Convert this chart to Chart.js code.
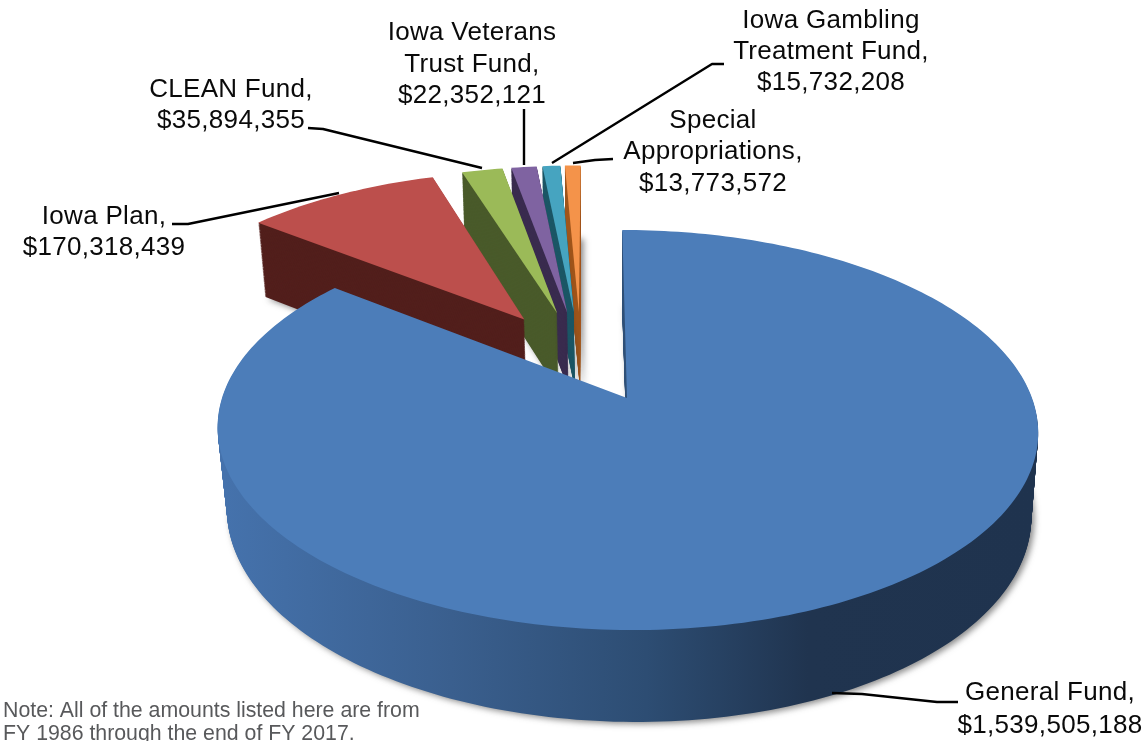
<!DOCTYPE html>
<html>
<head>
<meta charset="utf-8">
<title>Funds</title>
<script src="https://cdn.jsdelivr.net/npm/chart.js@4"></script>
<style>
  html, body { margin: 0; padding: 0; background: #fff; }
  canvas { display: block; }
</style>
</head>
<body>
<canvas id="pie" width="1143" height="741"></canvas>
<script>
// ── Data ─────────────────────────────────────────────────
const categories = ["General Fund", "Iowa Plan", "CLEAN Fund", "Iowa Veterans Trust Fund", "Iowa Gambling Treatment Fund", "Special Appropriations"];
const amounts = [1539505188, 170318439, 35894355, 22352121, 15732208, 13773572];
const note = ["Note: All of the amounts listed here are from", "FY 1986 through the end of FY 2017."];

// ── Styles ───────────────────────────────────────────────
const topColors = ["#4c7db9", "#bc4f4c", "#9bba58", "#7f63a1", "#46a4c0", "#f4934a"];
const wallColors = [null, "#521f1c", "#495a2a", "#3a2c4f", "#1d5766", "#a2581f"];
const explodeX = 0.264; // kao Excel "pie explosion", del od radiusot
const explodeY = 0.25;

// Perspektiva: gornata i dolnata ramnina na pitata
const TOP = { x0: 627, y0: 398, a: 405, b: 5.5, d: 194.9, g: -0.16 };
const BOTTOM = { x0: 628, y0: 479.7, a: 397, b: 7, d: 203.5, g: -0.16 };

const labels = [
  { x: 1050, lines: [["General Fund,", 700], ["$1,539,505,188", 733]], leader: [[958, 702], [937, 702], [862, 694], [832, 693]] },
  { x: 104, lines: [["Iowa Plan,", 224], ["$170,318,439", 255]], leader: [[172, 224], [188, 224], [339, 193]] },
  { x: 231, lines: [["CLEAN Fund,", 97], ["$35,894,355", 128]], leader: [[308, 128], [323, 129], [482, 168]] },
  { x: 472, lines: [["Iowa Veterans", 40], ["Trust Fund,", 72], ["$22,352,121", 103]], leader: [[524, 109], [524, 165]] },
  { x: 831, lines: [["Iowa Gambling", 28], ["Treatment Fund,", 59], ["$15,732,208", 90]], leader: [[724, 64], [712, 64], [552, 163]] },
  { x: 713, lines: [["Special", 128], ["Appropriations,", 159], ["$13,773,572", 191]], leader: [[613, 159], [595, 160], [573, 163]] },
];

// ── Helpers ──────────────────────────────────────────────
const lerp = (a, b, t) => a + (b - a) * t;
const lerpPlane = (t) => {
  const p = {};
  for (const k in TOP) p[k] = lerp(TOP[k], BOTTOM[k], t);
  return p;
};

function project(p, u, v) {
  const w = 1 + p.g * v;
  return [p.x0 + (p.a * u + p.b * v) / w, p.y0 + (p.d * v) / w];
}

// Go prenasochuva crtanjeto na ArcElement niz perspektivata
function planeCtx(ctx, el, plane, dx, dy) {
  const toScreen = (x, y) => project(plane, (x - el.x) / el.outerRadius + dx, (y - el.y) / el.outerRadius + dy);
  const lineTo = (x, y) => ctx.lineTo(...toScreen(x, y));
  const over = {
    lineTo,
    moveTo: lineTo,
    translate() {},
    arc(x, y, r, a0, a1, ccw) {
      const n = Math.max(2, Math.ceil(Math.abs(a1 - a0) / 0.02));
      for (let i = 0; i <= n; i++) {
        const a = lerp(a0, a1, i / n);
        lineTo(x + r * Math.cos(a), y + r * Math.sin(a));
      }
    },
  };
  return new Proxy(ctx, {
    get(t, k) {
      if (k in over) return over[k];
      const v = t[k];
      return typeof v === "function" ? v.bind(t) : v;
    },
    set(t, k, v) {
      t[k] = v;
      return true;
    },
  });
}

function drawFace(ctx, el, plane, dx, dy, color) {
  const ghost = Object.create(el);
  ghost.options = { backgroundColor: color, borderColor: color, borderWidth: 0, borderRadius: 0, offset: 0, spacing: 0, circular: true, borderDash: [], borderDashOffset: 0 };
  ghost.draw(planeCtx(ctx, el, plane, dx, dy));
}

const midDir = (el) => {
  const m = (el.startAngle + el.endAngle) / 2;
  return [Math.cos(m), Math.sin(m)];
};

// ── Pie so debelina ──────────────────────────────────────
const pie3d = {
  id: "pie3d",
  beforeDatasetsDraw(chart) {
    const ctx = chart.ctx;
    const arcs = chart.getDatasetMeta(0).data;
    const origin = midDir(arcs[0]);

    const blueWall = ctx.createLinearGradient(225, 0, 1035, 0);
    blueWall.addColorStop(0, "#4572ac");
    blueWall.addColorStop(0.28, "#3a5f8e");
    blueWall.addColorStop(0.52, "#2d4d73");
    blueWall.addColorStop(0.72, "#20344f");
    blueWall.addColorStop(1, "#1f334e");

    // Od pozadi kon napred: posledniot isecok, ..., prviot
    for (let i = arcs.length - 1; i >= 0; i--) {
      const el = arcs[i];
      const dir = midDir(el);
      const dx = explodeX * (dir[0] - origin[0]);
      const dy = explodeY * (dir[1] - origin[1]);
      const wall = i === 0 ? blueWall : wallColors[i];
      const steps = 90;
      for (let s = steps; s > 0; s--) {
        if (s === steps) {
          ctx.shadowColor = "rgba(40,40,40,0.55)";
          ctx.shadowBlur = 6;
          ctx.shadowOffsetX = 3;
          ctx.shadowOffsetY = 2;
        }
        drawFace(ctx, el, lerpPlane(s / steps), dx, dy, wall);
        ctx.shadowColor = "transparent";
        ctx.shadowBlur = ctx.shadowOffsetX = ctx.shadowOffsetY = 0;
      }
      drawFace(ctx, el, TOP, dx, dy, topColors[i]);
    }
    return false;
  },
  afterDraw(chart) {
    const ctx = chart.ctx;
    ctx.save();
    ctx.strokeStyle = "#000";
    ctx.lineWidth = 2.4;
    ctx.lineJoin = "round";
    labels.forEach((l) => {
      ctx.beginPath();
      l.leader.forEach((p, i) => (i ? ctx.lineTo(p[0], p[1]) : ctx.moveTo(p[0], p[1])));
      ctx.stroke();
    });

    ctx.fillStyle = "#0a0a0a";
    ctx.font = '26px "Liberation Sans"';
    ctx.letterSpacing = "0.3px";
    ctx.textAlign = "center";
    labels.forEach((l) => l.lines.forEach(([txt, y]) => ctx.fillText(txt, l.x, y)));

    ctx.fillStyle = "#58595b";
    ctx.font = '21.3px "Liberation Sans"';
    ctx.letterSpacing = "0px";
    ctx.textAlign = "left";
    ctx.fillText(note[0], 3, 717);
    ctx.fillText(note[1], 3, 740);
    ctx.restore();
  },
};

// ── Chart ────────────────────────────────────────────────
new Chart(document.getElementById("pie").getContext("2d"), {
  type: "pie",
  data: {
    labels: categories,
    datasets: [{ data: amounts, backgroundColor: topColors, borderWidth: 0 }],
  },
  options: {
    responsive: false,
    animation: false,
    devicePixelRatio: 1,
    plugins: { legend: { display: false }, tooltip: { enabled: false } },
  },
  plugins: [pie3d],
});
</script>
</body>
</html>
